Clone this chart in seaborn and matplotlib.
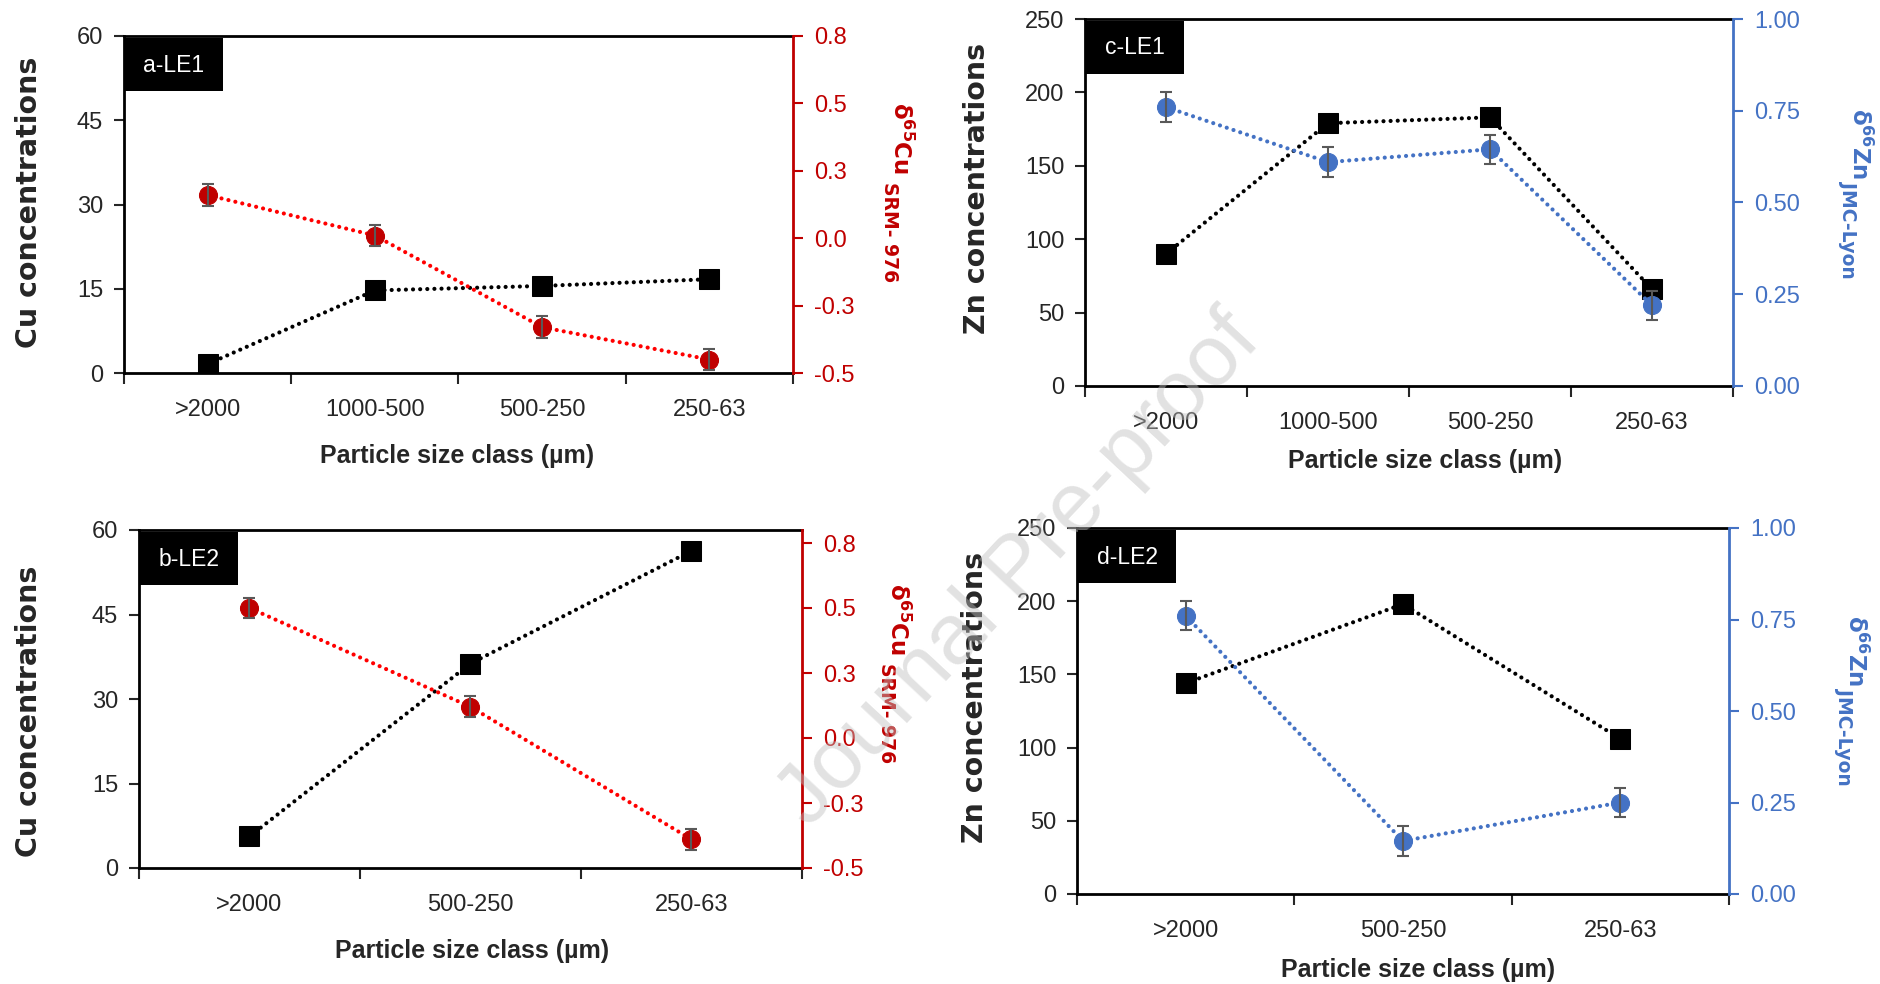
import numpy as np
import pandas as pd
import seaborn as sns
import matplotlib.pyplot as plt
from matplotlib.patches import Rectangle

sns.set_style('ticks')
plt.rcParams['font.family'] = ['Liberation Sans', 'DejaVu Sans']
plt.rcParams['mathtext.fontset'] = 'dejavusans'
plt.rcParams['mathtext.default'] = 'bf'

# data
sizes_le1 = ['>2000', '1000-500', '500-250', '250-63']
sizes_le2 = ['>2000', '500-250', '250-63']

cu_le1 = [1.6, 14.7, 15.5, 16.7]
d65cu_le1 = [0.16, 0.01, -0.33, -0.45]
cu_le2 = [5.6, 36.3, 56.3]
d65cu_le2 = [0.50, 0.12, -0.39]

zn_le1 = [90, 179, 183, 66]
d66zn_le1 = [0.76, 0.61, 0.645, 0.22]
zn_le2 = [144, 198, 106]
d66zn_le2 = [0.76, 0.145, 0.25]

err_d65cu_le1 = [0.04, 0.04, 0.04, 0.04]
err_d65cu_le2 = [0.04, 0.04, 0.04]
err_d66zn_le1 = [0.04, 0.04, 0.04, 0.04]
err_d66zn_le2 = [0.04, 0.04, 0.04]

cu_ticks = [0, 15, 30, 45, 60]
zn_ticks = [0, 50, 100, 150, 200, 250]
d65cu_ticks = [-0.5, -0.25, 0.0, 0.25, 0.5, 0.75]
d65cu_ticklabels = ['-0.5', '-0.3', '0.0', '0.3', '0.5', '0.8']
d66zn_ticks = [0.0, 0.25, 0.5, 0.75, 1.0]
d66zn_ticklabels = ['0.00', '0.25', '0.50', '0.75', '1.00']

RED_MK = '#C00000'
RED_LN = '#FF0000'
BLUE = '#4472C4'
W, H = 1881, 984

fig = plt.figure(figsize=(W / 100, H / 100), dpi=100)


def px_rect(l, t, r, b):
    return [l / W, 1 - b / H, (r - l) / W, (b - t) / H]


def ftext(x, y, s, **kw):
    kw.setdefault('ha', 'center')
    kw.setdefault('va', 'center')
    fig.text(x / W, 1 - y / H, s, **kw)


def make_panel(rect, tag, cats, conc, iso, iso_err, left_lim, left_ticks,
               right_lim, right_ticks, right_labels, col_mk, col_ln):
    n = len(cats)
    pos = np.arange(n)
    df = pd.DataFrame({'pos': pos, 'conc': conc, 'iso': iso, 'err': iso_err})

    ax = fig.add_axes(px_rect(*rect))
    ax.set_facecolor('none')
    sns.lineplot(data=df, x='pos', y='conc', ax=ax, color='black', marker='s',
                 markersize=14, markeredgecolor='black', linewidth=3,
                 linestyle=(0, (0.01, 1.7)), dash_capstyle='round', zorder=3)
    ax.set_xlim(-0.5, n - 0.5)
    ax.set_ylim(*left_lim)
    ax.set_yticks(left_ticks)
    ax.set_xticks(np.arange(n + 1) - 0.5)
    ax.set_xticklabels([])
    ax.set_xticks(pos, minor=True)
    ax.set_xticklabels(cats, minor=True)
    ax.tick_params(axis='x', which='major', length=8, width=1.5, direction='out')
    ax.tick_params(axis='x', which='minor', length=0, pad=19, labelsize=17)
    ax.tick_params(axis='y', length=7, width=1.5, direction='out', pad=8, labelsize=17)
    ax.set_xlabel('')
    ax.set_ylabel('')
    for s in ['left', 'bottom', 'top']:
        ax.spines[s].set_linewidth(2)
        ax.spines[s].set_color('black')
    ax.spines['right'].set_visible(False)

    ax2 = ax.twinx()
    sns.lineplot(data=df, x='pos', y='iso', ax=ax2, color=col_ln, marker='o',
                 markersize=13, markerfacecolor=col_mk, markeredgecolor=col_mk,
                 linewidth=3, linestyle=(0, (0.01, 1.7)), dash_capstyle='round',
                 zorder=3)
    ax2.errorbar(df['pos'], df['iso'], yerr=df['err'], fmt='none',
                 ecolor='#595959', elinewidth=1.5, capsize=4, capthick=1.5,
                 zorder=4)
    ax2.set_ylim(*right_lim)
    ax2.set_yticks(right_ticks)
    ax2.set_yticklabels(right_labels)
    ax2.set_ylabel('')
    ax2.tick_params(axis='y', length=7, width=1.5, direction='out', pad=8,
                    labelsize=17, colors=col_mk)
    for s in ['left', 'bottom', 'top']:
        ax2.spines[s].set_visible(False)
    ax2.spines['right'].set_color(col_mk)
    ax2.spines['right'].set_linewidth(2)

    # black tag box in the top-left corner
    l, t = rect[0] + 1, rect[1] + 2
    fig.patches.append(Rectangle((l / W, 1 - (t + 53) / H), 98 / W, 53 / H,
                                 transform=fig.transFigure, fc='black',
                                 ec='none', zorder=5))
    ftext(l + 49, t + 27, tag, color='white', fontsize=16.5, zorder=6)
    return ax, ax2


# panel a
make_panel((124, 36, 793, 373), 'a-LE1', sizes_le1, cu_le1, d65cu_le1,
           err_d65cu_le1, (0, 60), cu_ticks, (-0.5, 0.75), d65cu_ticks,
           d65cu_ticklabels, RED_MK, RED_LN)
# panel b
make_panel((139, 530, 802, 868), 'b-LE2', sizes_le2, cu_le2, d65cu_le2,
           err_d65cu_le2, (0, 60), cu_ticks, (-0.5, 0.8), d65cu_ticks,
           d65cu_ticklabels, RED_MK, RED_LN)
# panel c
make_panel((1085, 19, 1733, 386), 'c-LE1', sizes_le1, zn_le1, d66zn_le1,
           err_d66zn_le1, (0, 250), zn_ticks, (0, 1), d66zn_ticks,
           d66zn_ticklabels, BLUE, BLUE)
# panel d
make_panel((1077, 528, 1729, 894), 'd-LE2', sizes_le2, zn_le2, d66zn_le2,
           err_d66zn_le2, (0, 250), zn_ticks, (0, 1), d66zn_ticks,
           d66zn_ticklabels, BLUE, BLUE)

# axis titles placed in pixel coordinates
lab_kw = dict(fontsize=20.5, fontweight='bold', family=['DejaVu Sans'])
ftext(29, 202, 'Cu concentrations', rotation=90, **lab_kw)
ftext(29, 711, 'Cu concentrations', rotation=90, **lab_kw)
ftext(977, 188, 'Zn concentrations', rotation=90, **lab_kw)
ftext(975, 697, 'Zn concentrations', rotation=90, **lab_kw)


def iso_label(x0, y0, main, sub, color, sub_dy):
    kw = dict(rotation=270, rotation_mode='anchor', ha='left', va='baseline',
              fontweight='bold', family=['DejaVu Sans'], color=color)
    ftext(x0, y0, main, fontsize=16.5, **kw)
    ftext(x0 - 9, y0 + sub_dy, sub, fontsize=13.5, **kw)


iso_label(893, 102, r'δ$^{65}$Cu', 'SRM- 976', RED_MK, 80)
iso_label(890, 583, r'δ$^{65}$Cu', 'SRM- 976', RED_MK, 80)
iso_label(1852, 108, r'δ$^{66}$Zn', 'JMC-Lyon', BLUE, 73)
iso_label(1848, 615, r'δ$^{66}$Zn', 'JMC-Lyon', BLUE, 73)

xl_kw = dict(fontsize=18, fontweight='bold')
ftext(457, 456, 'Particle size class (µm)', **xl_kw)
ftext(472, 951, 'Particle size class (µm)', **xl_kw)
ftext(1425, 461, 'Particle size class (µm)', **xl_kw)
ftext(1418, 970, 'Particle size class (µm)', **xl_kw)

# watermark
ftext(1020, 570, 'Journal Pre-proof', fontsize=62, color='#bfbfbf', alpha=0.45,
      rotation=47, rotation_mode='anchor')

fig.savefig('out.png', dpi=100)
